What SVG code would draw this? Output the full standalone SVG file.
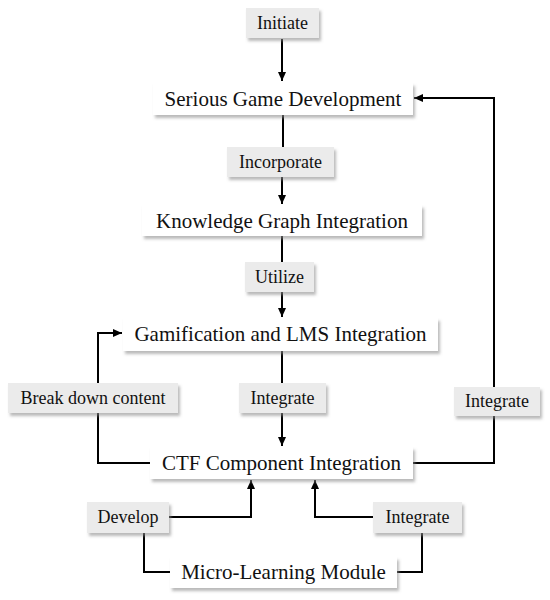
<svg xmlns="http://www.w3.org/2000/svg" width="550" height="600" viewBox="0 0 550 600">
<defs>
<filter id="sh" x="-10%" y="-30%" width="125%" height="170%">
<feDropShadow dx="2" dy="3" stdDeviation="1.8" flood-color="#8c8c8c" flood-opacity="0.6"/>
</filter>
<marker id="ah" markerUnits="userSpaceOnUse" markerWidth="10" markerHeight="10" viewBox="0 0 10 10" refX="9" refY="5" orient="auto">
<path d="M0,1 L9,5 L0,9 Z" fill="#000"/>
</marker>
<style>
.node rect{fill:#fff;filter:url(#sh)}
.lab rect{fill:#ebebeb;filter:url(#sh)}
.node text{font-family:"Liberation Serif","Times New Roman",serif;font-size:21px;fill:#111;text-anchor:middle}
.lab text{font-family:"Liberation Serif","Times New Roman",serif;font-size:18px;fill:#111;text-anchor:middle}
.conn path{fill:none;stroke:#000;stroke-width:2}
.conn .a{marker-end:url(#ah)}
</style>
</defs>
<rect width="550" height="600" fill="#fff"/>
<g class="conn">
<path class="a" d="M282,39 V81"/>
<path d="M283,115 V147"/>
<path class="a" d="M282,177 V204"/>
<path d="M282,236 V262"/>
<path class="a" d="M282,292 V317"/>
<path d="M282,351 V383"/>
<path class="a" d="M282,413 V446"/>
<path d="M150,463 H98 V413"/>
<path class="a" d="M98,383 V333 H122"/>
<path d="M413,463 H494 V416"/>
<path class="a" d="M494,387 V98 H414"/>
<path d="M170,572 H144 V533"/>
<path class="a" d="M169,517 H251 V480"/>
<path d="M397,572 H422 V533"/>
<path class="a" d="M373,517 H315 V480"/>
</g>
<g id="initiate" class="lab"><rect x="246" y="8" width="73" height="30"/><text x="282.5" y="29">Initiate</text></g>
<g id="serious" class="node"><rect x="153" y="83" width="260" height="32"/><text x="283" y="106">Serious Game Development</text></g>
<g id="incorporate" class="lab"><rect x="227" y="147" width="107" height="30"/><text x="280.5" y="168">Incorporate</text></g>
<g id="knowledge" class="node"><rect x="142" y="205" width="280" height="31"/><text x="282" y="228">Knowledge Graph Integration</text></g>
<g id="utilize" class="lab"><rect x="245" y="262" width="69" height="30"/><text x="279.5" y="283">Utilize</text></g>
<g id="gamification" class="node"><rect x="123" y="318" width="315" height="33"/><text x="280.5" y="341">Gamification and LMS Integration</text></g>
<g id="breakdown" class="lab"><rect x="8" y="383" width="170" height="30"/><text x="93" y="404">Break down content</text></g>
<g id="integrate-mid" class="lab"><rect x="239" y="383" width="87" height="30"/><text x="282.5" y="404">Integrate</text></g>
<g id="integrate-right" class="lab"><rect x="454" y="387" width="86" height="29"/><text x="497" y="407">Integrate</text></g>
<g id="ctf" class="node"><rect x="150" y="447" width="263" height="32"/><text x="281.5" y="470">CTF Component Integration</text></g>
<g id="develop" class="lab"><rect x="87" y="502" width="82" height="31"/><text x="128" y="523">Develop</text></g>
<g id="integrate-bottom" class="lab"><rect x="373" y="502" width="89" height="31"/><text x="417.5" y="523">Integrate</text></g>
<g id="micro" class="node"><rect x="170" y="557" width="227" height="31"/><text x="283.5" y="579">Micro-Learning Module</text></g>
</svg>
